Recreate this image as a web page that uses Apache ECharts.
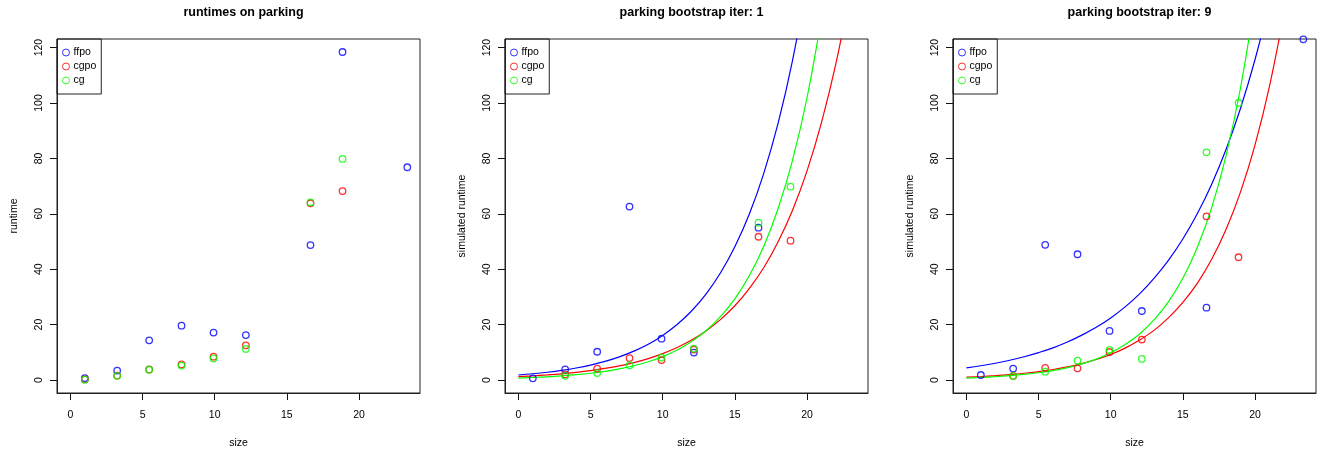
<!DOCTYPE html>
<html>
<head>
<meta charset="utf-8">
<script src="https://cdn.jsdelivr.net/npm/echarts@6/dist/echarts.min.js"></script>
<style>
html,body{margin:0;padding:0;background:#fff;}
#chart{width:1319px;height:452px;}
</style>
</head>
<body>
<div id="chart"></div>
<script>
// ---- data ----
const panelTitles = ['runtimes on parking', 'parking bootstrap iter: 1', 'parking bootstrap iter: 9'];
const yNames = ['runtime', 'simulated runtime', 'simulated runtime'];
const seriesNames = ['ffpo', 'cgpo', 'cg'];
const xTicks = [0, 5, 10, 15, 20];
const yTicks = [0, 20, 40, 60, 80, 100, 120];

const sizes = [1, 3.24, 5.46, 7.7, 9.92, 12.16, 16.64, 18.86, 23.35];

// panel 1: observed runtimes
const runtimeFfpo = [0.7, 3.4, 14.3, 19.6, 17.1, 16.2, 48.7, 118.4, 76.8];
const runtimeCgpo = [0.2, 1.6, 3.8, 5.6, 8.4, 12.5, 63.8, 68.2, null];
const runtimeCg   = [0.1, 1.5, 3.7, 5.2, 7.8, 11.2, 64.1, 79.8, null];

// panel 2: bootstrap iter 1
const iter1Ffpo = [0.6, 3.8, 10.2, 62.6, 14.9, 9.9, 55.0, null, null];
const iter1Cgpo = [null, 2.0, 4.1, 7.9, 7.2, 11.0, 51.7, 50.3, null];
const iter1Cg   = [null, 1.5, 2.5, 5.3, 8.1, 11.3, 56.8, 69.8, null];

// panel 3: bootstrap iter 9
const iter9Ffpo = [1.8, 4.1, 48.8, 45.4, 17.7, 24.9, 26.1, null, 123.0];
const iter9Cgpo = [null, 1.5, 4.4, 4.2, 10.1, 14.6, 59.1, 44.3, null];
const iter9Cg   = [null, 1.4, 3.0, 7.0, 10.9, 7.6, 82.2, 100.0, null];

// fitted curves, read at x = 0, 1, 2, ...
const fitX = [0,1,2,3,4,5,6,7,8,9,10,11,12,13,14,15,16,17,18,19,20,21,22,23];
const fit1Ffpo = [1.8, 2.24, 2.79, 3.47, 4.32, 5.38, 6.70, 8.34, 10.4, 12.9, 16.1, 20.0, 24.9, 31.0, 38.6, 48.1, 59.8, 74.5, 92.7, 115.4, 143.7];
const fit1Cgpo = [1.2, 1.48, 1.82, 2.23, 2.75, 3.38, 4.16, 5.11, 6.29, 7.73, 9.51, 11.7, 14.4, 17.7, 21.8, 26.8, 33.0, 40.5, 49.9, 61.3, 75.4, 92.8, 114.1, 140.3];
const fit1Cg   = [0.7, 0.90, 1.15, 1.48, 1.90, 2.43, 3.12, 4.00, 5.13, 6.58, 8.44, 10.8, 13.9, 17.8, 22.9, 29.3, 37.6, 48.2, 61.9, 79.4, 101.8, 130.6];
const fit9Ffpo = [4.35, 5.13, 6.04, 7.11, 8.38, 9.88, 11.6, 13.7, 16.2, 19.0, 22.4, 26.4, 31.1, 36.7, 43.2, 50.9, 60.0, 70.7, 83.3, 98.1, 115.6, 136.2];
const fit9Cgpo = [1.0, 1.25, 1.56, 1.95, 2.43, 3.04, 3.79, 4.73, 5.91, 7.38, 9.21, 11.5, 14.4, 17.9, 22.4, 28.0, 34.9, 43.6, 54.4, 67.9, 84.8, 105.9, 132.2];
const fit9Cg   = [0.7, 0.91, 1.19, 1.55, 2.01, 2.62, 3.41, 4.44, 5.79, 7.53, 9.81, 12.8, 16.6, 21.7, 28.2, 36.7, 47.8, 62.2, 81.1, 105.5, 137.4];

const colors = ['#0000ff', '#ff0000', '#00ff00'];
// ---- build ----
const FONT = "'Liberation Sans', Arial, Helvetica, sans-serif";
const gridLefts = [57, 505, 953];
const gridTop = 39, gridW = 363, gridH = 354;
const panelPoints = [
  [runtimeFfpo, runtimeCgpo, runtimeCg],
  [iter1Ffpo, iter1Cgpo, iter1Cg],
  [iter9Ffpo, iter9Cgpo, iter9Cg]
];
const panelFits = [null, [fit1Ffpo, fit1Cgpo, fit1Cg], [fit9Ffpo, fit9Cgpo, fit9Cg]];

function pairs(xs, ys) {
  const out = [];
  for (let i = 0; i < ys.length; i++) if (ys[i] !== null && ys[i] !== undefined) out.push([xs[i], ys[i]]);
  return out;
}

const grids = [], xAxes = [], yAxes = [], titles = [], legends = [], series = [];
for (let p = 0; p < 3; p++) {
  grids.push({left: gridLefts[p], top: gridTop, width: gridW, height: gridH, show: true,
    borderColor: '#222', borderWidth: 1,
    containLabel: false, outerBoundsMode: 'none'});
  titles.push({text: panelTitles[p], left: gridLefts[p] + gridW / 2, top: 1, textAlign: 'center',
    textStyle: {fontFamily: FONT, fontSize: 12.5, fontWeight: 'bold', color: '#000'}});
  xAxes.push({gridIndex: p, type: 'value', min: -0.93, max: 24.23,
    name: 'size', nameLocation: 'middle', nameGap: 45,
    nameTextStyle: {fontFamily: FONT, fontSize: 10.5, color: '#000'},
    splitLine: {show: false},
    axisLine: {show: true, onZero: false, lineStyle: {color: '#222', width: 1}},
    axisTick: {show: true, length: 7, customValues: xTicks, lineStyle: {color: '#111', width: 1}},
    axisLabel: {customValues: xTicks, fontFamily: FONT, fontSize: 10.5, color: '#000', margin: 17}});
  yAxes.push({gridIndex: p, type: 'value', min: -4.7, max: 123.1,
    name: yNames[p], nameLocation: 'middle', nameGap: 37, nameRotate: 90,
    nameTextStyle: {fontFamily: FONT, fontSize: 10.5, color: '#000'},
    splitLine: {show: false},
    axisLine: {show: true, onZero: false, lineStyle: {color: '#222', width: 1}},
    axisTick: {show: true, length: 7, customValues: yTicks, lineStyle: {color: '#111', width: 1}},
    axisLabel: {customValues: yTicks, rotate: 90, fontFamily: FONT, fontSize: 10.5, color: '#000', margin: 12}});
  legends.push({left: gridLefts[p], top: gridTop, orient: 'vertical', selectedMode: false,
    data: seriesNames.map(n => ({name: n, icon: 'circle'})),
    borderColor: '#222', borderWidth: 1, padding: [8, 5, 8, 5], itemGap: 3,
    itemWidth: 7, itemHeight: 7,
    itemStyle: {borderWidth: 1},
    textStyle: {fontFamily: FONT, fontSize: 10.5, lineHeight: 11, color: '#000', padding: [0, 0, 0, -1]}});
  for (let s = 0; s < 3; s++) {
    series.push({name: seriesNames[s], type: 'scatter', xAxisIndex: p, yAxisIndex: p,
      symbol: 'circle', symbolSize: 6.5,
      itemStyle: {color: 'rgba(0,0,0,0)', borderColor: colors[s], borderWidth: 1.3},
      data: pairs(sizes, panelPoints[p][s]), z: 3, silent: true});
  }
  if (panelFits[p]) {
    for (let s = 0; s < 3; s++) {
      series.push({name: seriesNames[s] + ' fit', type: 'line', xAxisIndex: p, yAxisIndex: p,
        symbol: 'none', smooth: 0.4, clip: true,
        lineStyle: {color: colors[s], width: 1.2},
        data: pairs(fitX, panelFits[p][s]), z: 2, silent: true});
    }
  }
}

const chart = echarts.init(document.getElementById('chart'), null, {renderer: 'canvas'});
chart.setOption({
  animation: false,
  backgroundColor: '#fff',
  textStyle: {fontFamily: FONT},
  title: titles, grid: grids, xAxis: xAxes, yAxis: yAxes, legend: legends, series: series
});
</script>
</body>
</html>
